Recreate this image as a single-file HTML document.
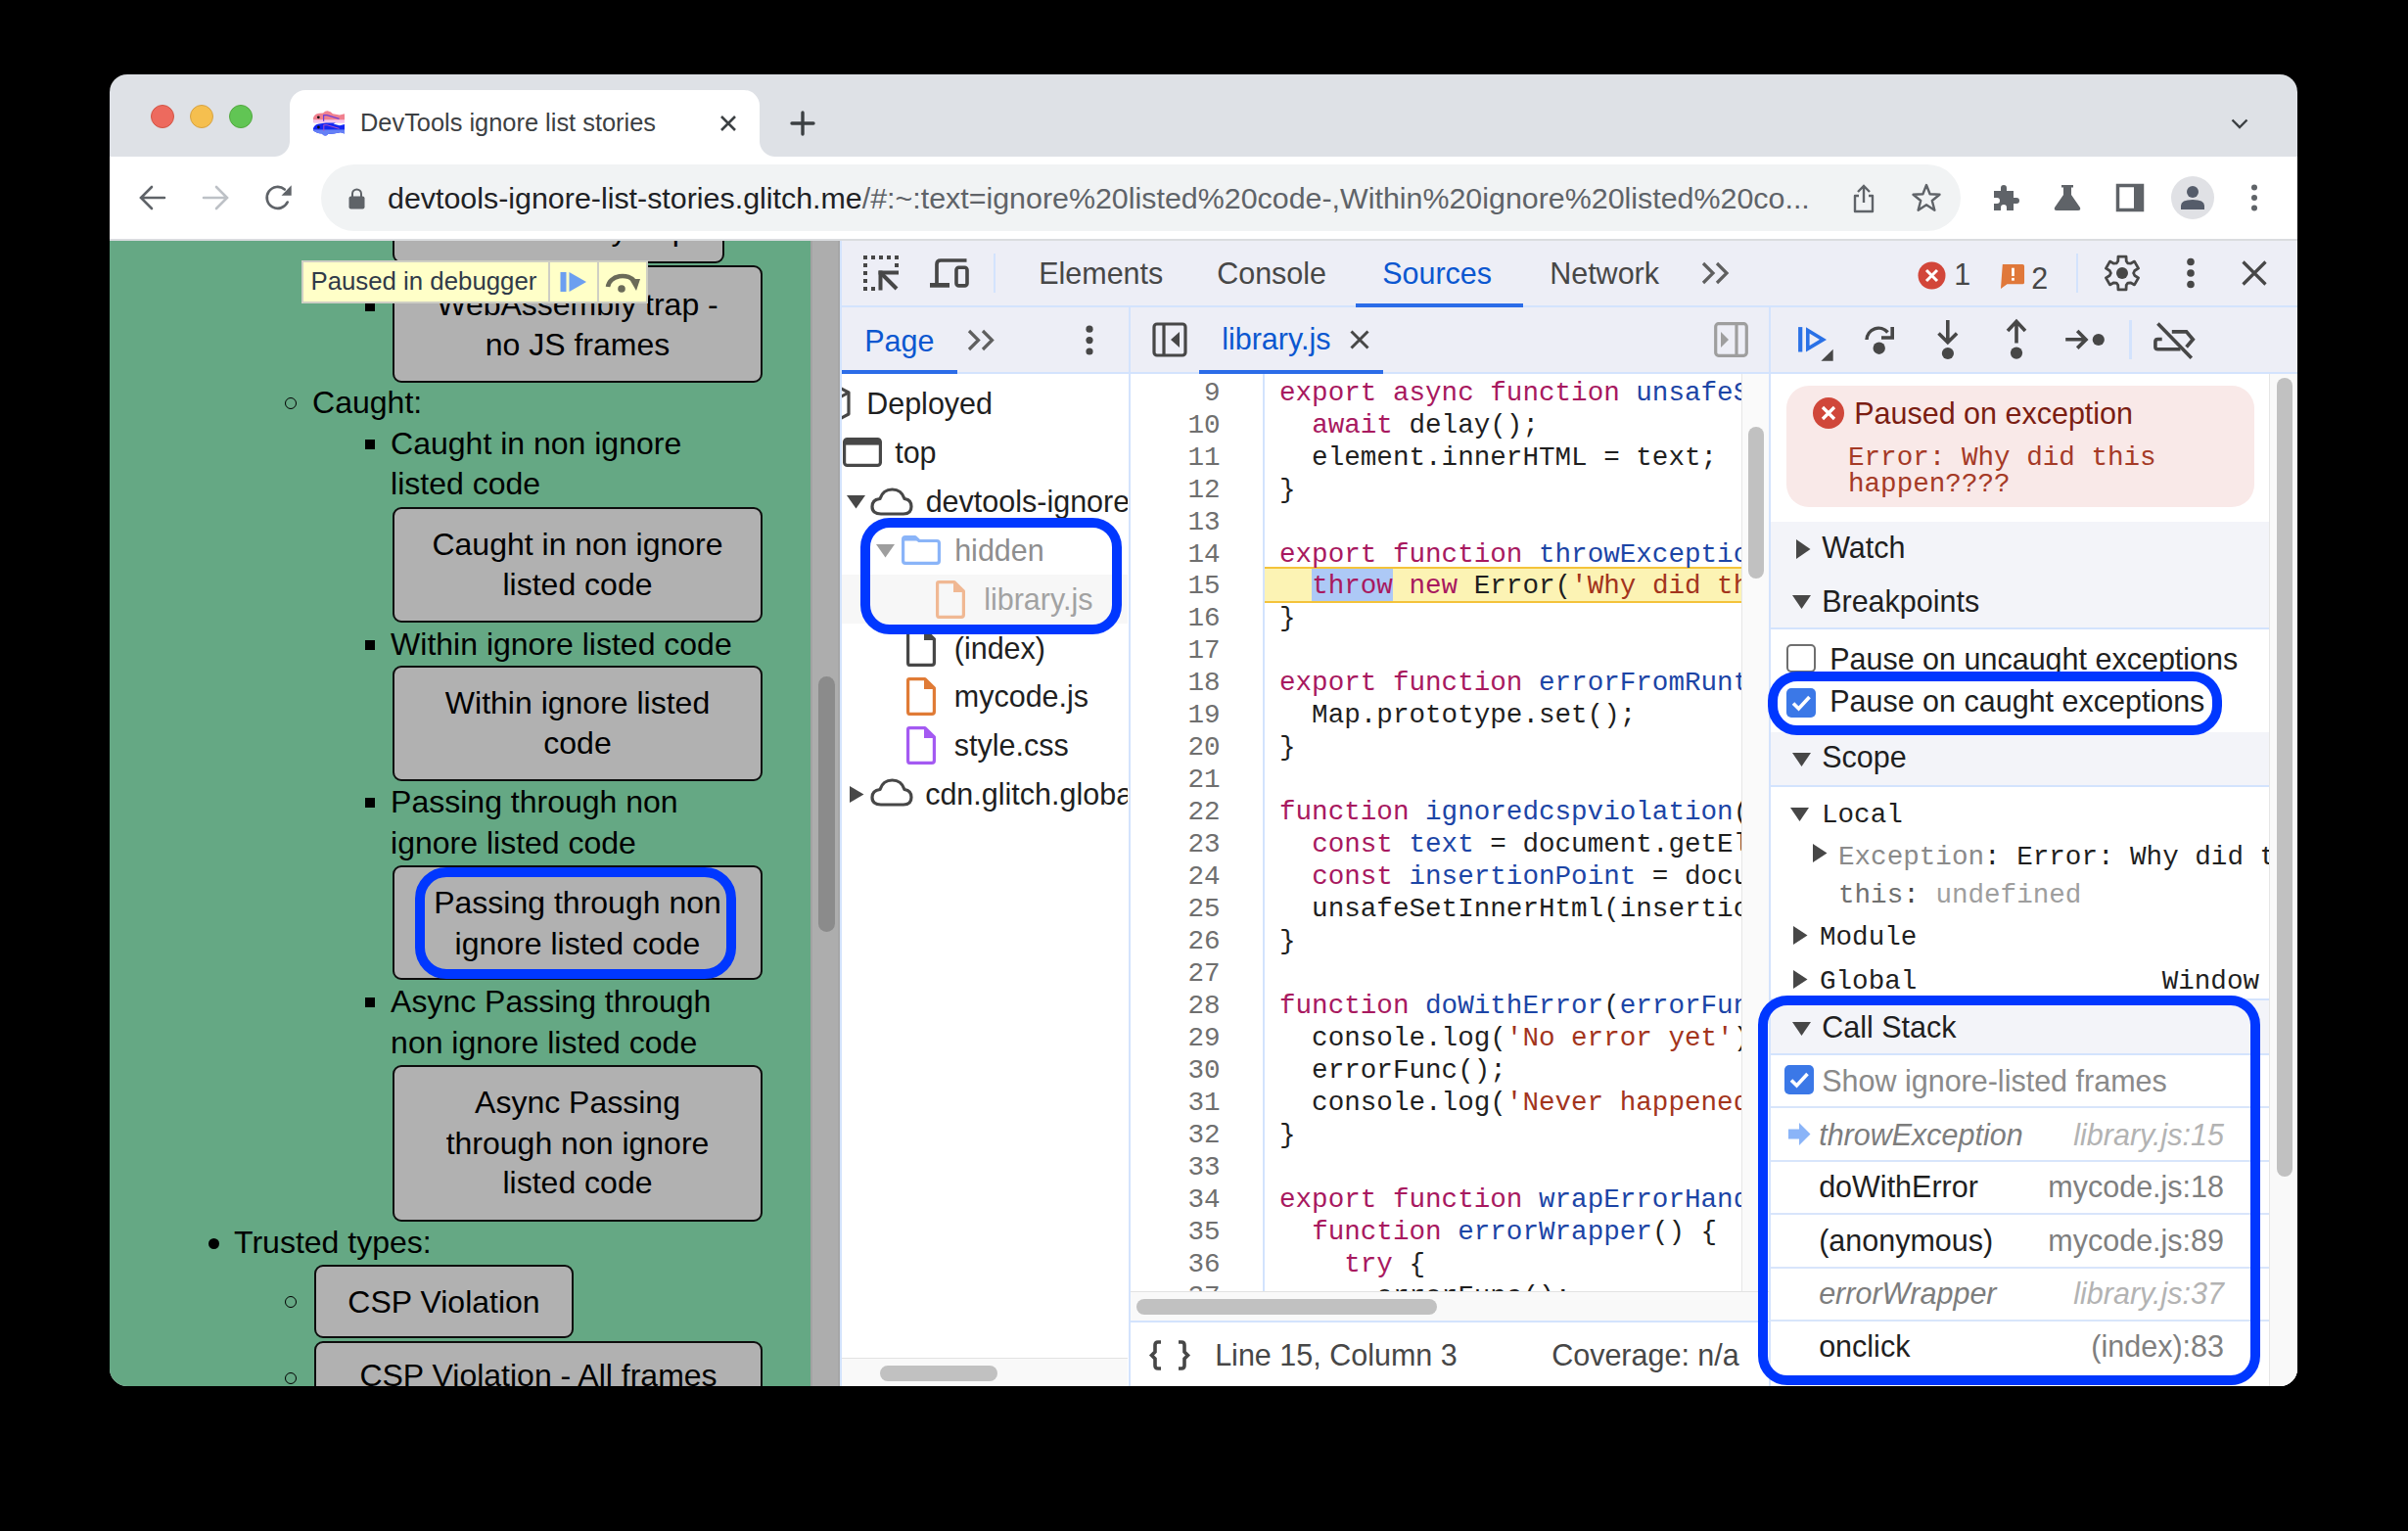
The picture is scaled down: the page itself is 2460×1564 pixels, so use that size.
<!DOCTYPE html>
<html><head><meta charset="utf-8">
<style>
*{box-sizing:border-box;margin:0;padding:0}
html,body{width:2460px;height:1564px;background:#000;overflow:hidden;font-family:"Liberation Sans",sans-serif}
.a{position:absolute}
#win{position:absolute;left:112px;top:76px;width:2235px;height:1340px;border-radius:18px;overflow:hidden;background:#dee1e6}
#c{position:absolute;left:-112px;top:-76px;width:2460px;height:1564px}
.t{white-space:pre;line-height:1}
svg{position:absolute;overflow:visible}
.clip{position:absolute;overflow:hidden}
</style></head><body>
<div id="win"><div id="c">

<!-- ===== TAB STRIP ===== -->
<div class="a" style="left:154px;top:107px;width:24px;height:24px;border-radius:50%;background:#ed6a5e;border:1px solid #d25545"></div>
<div class="a" style="left:194px;top:107px;width:24px;height:24px;border-radius:50%;background:#f5bf4f;border:1px solid #d6a243"></div>
<div class="a" style="left:234px;top:107px;width:24px;height:24px;border-radius:50%;background:#61c554;border:1px solid #52a73f"></div>
<div class="a" style="left:296px;top:92px;width:480px;height:68px;background:#fff;border-radius:16px 16px 0 0"></div>
<div class="a" style="left:280px;top:144px;width:16px;height:16px;background:radial-gradient(circle at 0 0,#dee1e6 15.5px,#fff 16.5px)"></div>
<div class="a" style="left:776px;top:144px;width:16px;height:16px;background:radial-gradient(circle at 100% 0,#dee1e6 15.5px,#fff 16.5px)"></div>
<!-- favicon -->
<svg style="left:315px;top:108px" width="43" height="34" viewBox="0 0 43 34">
<defs><clipPath id="f1"><path d="M5 12.5Q6 8.6 11 7.8L15 7.5Q17 5.3 19.5 5.3Q23 5.6 25 8.2L32 9.6L37 8.3V17.8H5.5Q5 15 5 12.5Z"/></clipPath>
<clipPath id="f2"><path d="M5 23Q6 19.2 11 18.4L18 17.4H28L25.5 18.6L32 20.2L37 19V28.4L33 27.2Q25 29 20 28.9Q19 30.6 17 30.5Q15 30.4 14 28.6Q8 28.2 5 25.2Z"/></clipPath></defs>
<g clip-path="url(#f1)"><rect x="0" y="0" width="43" height="17" fill="#f0808f"/><rect x="0" y="14.3" width="43" height="4" fill="#f5c6ec"/></g>
<g clip-path="url(#f2)"><rect x="0" y="15" width="43" height="20" fill="#1426f2"/><rect x="0" y="24.4" width="43" height="8" fill="#6580f6"/></g>
<circle cx="10.3" cy="11.8" r="1.4" fill="#111"/><circle cx="10.4" cy="22" r="1.4" fill="#111"/>
<path d="M15.6 9.6V15.8M15.3 9.6H19L31.5 13.3" stroke="#6a3ed8" stroke-width="1.2" fill="none"/>
<path d="M15.8 19.7V25.8M15.5 19.7H19L31.5 23.4" stroke="#b050c0" stroke-width="1" fill="none"/>
</svg>
<div class="a t" style="left:368px;top:113px;font-size:25.4px;color:#3c4043">DevTools ignore list stories</div>
<svg style="left:735px;top:117px" width="18" height="18" viewBox="0 0 18 18"><path d="M2 2L16 16M16 2L2 16" stroke="#3c4043" stroke-width="2.6"/></svg>
<svg style="left:808px;top:114px" width="24" height="24" viewBox="0 0 24 24"><path d="M12 1V23M1 12H23" stroke="#3c4043" stroke-width="3.4" stroke-linecap="round"/></svg>
<svg style="left:2279px;top:121px" width="18" height="11" viewBox="0 0 18 11"><path d="M1.5 1.5L9 9L16.5 1.5" stroke="#3c4043" stroke-width="2.4" fill="none"/></svg>

<!-- ===== TOOLBAR ===== -->
<div class="a" style="left:112px;top:160px;width:2235px;height:84px;background:#fff"></div>
<div class="a" style="left:112px;top:244px;width:2235px;height:2px;background:#dadcdf"></div>
<svg style="left:142px;top:189px" width="28" height="26" viewBox="0 0 28 26"><path d="M26 13H3M13 2L2 13L13 24" stroke="#5f6368" stroke-width="2.6" fill="none" stroke-linecap="round"/></svg>
<svg style="left:206px;top:189px" width="28" height="26" viewBox="0 0 28 26"><path d="M2 13H25M15 2L26 13L15 24" stroke="#bdc1c6" stroke-width="2.6" fill="none" stroke-linecap="round"/></svg>
<svg style="left:268px;top:186px" width="32" height="32" viewBox="0 0 32 32"><path d="M25.67 20.55A11 11 0 1 1 22.77 7.47" stroke="#5f6368" stroke-width="2.7" fill="none" stroke-linecap="round"/><path d="M19.5 13.8L29.7 3.2V13.8Z" fill="#5f6368"/></svg>
<div class="a" style="left:328px;top:168px;width:1675px;height:68px;border-radius:34px;background:#f1f3f4"></div>
<svg style="left:356px;top:192px" width="17" height="22" viewBox="0 0 17 22"><path d="M4 9V6A4.5 4.5 0 0 1 13 6V9" stroke="#5f6368" stroke-width="2" fill="none"/><rect x="0.5" y="8.5" width="16" height="13" rx="2" fill="#5f6368"/></svg>
<div class="a t" style="left:396px;top:187px;font-size:30.4px;color:#202124">devtools-ignore-list-stories.glitch.me<span style="color:#5f6368">/#:~:text=ignore%20listed%20code-,Within%20ignore%20listed%20co...</span></div>
<svg style="left:1892px;top:188px" width="24" height="30" viewBox="0 0 24 30"><path d="M12 2V19M6 8L12 2L18 8" stroke="#5f6368" stroke-width="2.4" fill="none"/><path d="M7 12H3V28H21V12H17" stroke="#5f6368" stroke-width="2.4" fill="none" stroke-linejoin="round"/></svg>
<svg style="left:1953px;top:187px" width="30" height="30" viewBox="0 0 30 30"><path d="M15 2L18.6 11.3L28.5 11.8L20.8 18L23.4 27.7L15 22.2L6.6 27.7L9.2 18L1.5 11.8L11.4 11.3Z" stroke="#5f6368" stroke-width="2.4" fill="none" stroke-linejoin="round"/></svg>
<svg style="left:2034px;top:187px" width="30" height="30" viewBox="0 0 30 30"><path d="M3 8H10V5A3 3 0 0 1 16 5V8H23V15H26A3 3 0 0 1 26 21H23V28H16V25A3 3 0 0 0 10 25V28H3V21H6A3 3 0 0 0 6 15H3Z" fill="#5f6368"/></svg>
<svg style="left:2098px;top:188px" width="28" height="28" viewBox="0 0 28 28"><path d="M8 1H20V3.5H18V11L27 24Q28 27 25 27H3Q0 27 1 24L10 11V3.5H8Z" fill="#5f6368"/></svg>
<svg style="left:2162px;top:188px" width="28" height="28" viewBox="0 0 28 28"><rect x="1.5" y="1.5" width="25" height="25" fill="none" stroke="#5f6368" stroke-width="3.5"/><rect x="18" y="1" width="9" height="26" fill="#5f6368"/></svg>
<div class="a" style="left:2218px;top:180px;width:44px;height:44px;border-radius:50%;background:#e0e1e5"></div>
<svg style="left:2228px;top:189px" width="24" height="26" viewBox="0 0 24 26"><circle cx="12" cy="7" r="6" fill="#555c6a"/><path d="M0 25V21Q0 15 12 15Q24 15 24 21V25Z" fill="#555c6a"/></svg>
<svg style="left:2298px;top:188px" width="10" height="28" viewBox="0 0 10 28"><circle cx="5" cy="3.5" r="3" fill="#5f6368"/><circle cx="5" cy="14" r="3" fill="#5f6368"/><circle cx="5" cy="24.5" r="3" fill="#5f6368"/></svg>


<div class="a" style="left:112px;top:246px;width:716px;height:1170px;background:#65a884;"></div>
<div class="clip" style="left:112px;top:246px;width:716px;height:1170px"><div class="a" style="left:-112px;top:-246px;width:2460px;height:1564px">
<div class="a" style="left:401px;top:130px;width:339px;height:139px;background:#b1b1b1;border:2px solid #0d0d0d;border-radius:9px"></div>
<div class="a t" style="top:217.90px;font-size:32px;color:#000;font-family:'Liberation Sans',sans-serif;left:270.50px;width:600px;text-align:center;">WebAssembly trap</div>
<div class="a" style="left:373px;top:308px;width:10px;height:10px;background:#000;"></div>
<div class="a" style="left:401px;top:271px;width:378px;height:120px;background:#b1b1b1;border:2px solid #0d0d0d;border-radius:9px"></div>
<div class="a t" style="top:294.50px;font-size:32px;color:#000;font-family:'Liberation Sans',sans-serif;left:290.00px;width:600px;text-align:center;">WebAssembly trap -</div>
<div class="a t" style="top:335.90px;font-size:32px;color:#000;font-family:'Liberation Sans',sans-serif;left:290.00px;width:600px;text-align:center;">no JS frames</div>
<div class="a" style="left:291px;top:406px;width:12px;height:12px;border:1.6px solid #000;border-radius:50%"></div>
<div class="a t" style="top:394.90px;font-size:32px;color:#000;font-family:'Liberation Sans',sans-serif;left:319.08px;">Caught:</div>
<div class="a" style="left:373px;top:449px;width:10px;height:10px;background:#000;"></div>
<div class="a t" style="top:436.90px;font-size:32px;color:#000;font-family:'Liberation Sans',sans-serif;left:399.08px;">Caught in non ignore</div>
<div class="a t" style="top:478.40px;font-size:32px;color:#000;font-family:'Liberation Sans',sans-serif;left:399.08px;">listed code</div>
<div class="a" style="left:401px;top:518px;width:378px;height:118px;background:#b1b1b1;border:2px solid #0d0d0d;border-radius:9px"></div>
<div class="a t" style="top:539.90px;font-size:32px;color:#000;font-family:'Liberation Sans',sans-serif;left:290.00px;width:600px;text-align:center;">Caught in non ignore</div>
<div class="a t" style="top:581.40px;font-size:32px;color:#000;font-family:'Liberation Sans',sans-serif;left:290.00px;width:600px;text-align:center;">listed code</div>
<div class="a" style="left:373px;top:654px;width:10px;height:10px;background:#000;"></div>
<div class="a t" style="top:641.60px;font-size:32px;color:#000;font-family:'Liberation Sans',sans-serif;left:399.08px;">Within ignore listed code</div>
<div class="a" style="left:401px;top:680px;width:378px;height:118px;background:#b1b1b1;border:2px solid #0d0d0d;border-radius:9px"></div>
<div class="a t" style="top:701.70px;font-size:32px;color:#000;font-family:'Liberation Sans',sans-serif;left:290.00px;width:600px;text-align:center;">Within ignore listed</div>
<div class="a t" style="top:742.90px;font-size:32px;color:#000;font-family:'Liberation Sans',sans-serif;left:290.00px;width:600px;text-align:center;">code</div>
<div class="a" style="left:373px;top:815px;width:10px;height:10px;background:#000;"></div>
<div class="a t" style="top:802.90px;font-size:32px;color:#000;font-family:'Liberation Sans',sans-serif;left:399.08px;">Passing through non</div>
<div class="a t" style="top:844.90px;font-size:32px;color:#000;font-family:'Liberation Sans',sans-serif;left:399.08px;">ignore listed code</div>
<div class="a" style="left:401px;top:884px;width:378px;height:117px;background:#b1b1b1;border:2px solid #0d0d0d;border-radius:9px"></div>
<div class="a t" style="top:905.90px;font-size:32px;color:#000;font-family:'Liberation Sans',sans-serif;left:290.00px;width:600px;text-align:center;">Passing through non</div>
<div class="a t" style="top:947.90px;font-size:32px;color:#000;font-family:'Liberation Sans',sans-serif;left:290.00px;width:600px;text-align:center;">ignore listed code</div>
<div class="a" style="left:373px;top:1019px;width:10px;height:10px;background:#000;"></div>
<div class="a t" style="top:1006.90px;font-size:32px;color:#000;font-family:'Liberation Sans',sans-serif;left:399.08px;">Async Passing through</div>
<div class="a t" style="top:1048.90px;font-size:32px;color:#000;font-family:'Liberation Sans',sans-serif;left:399.08px;">non ignore listed code</div>
<div class="a" style="left:401px;top:1088px;width:378px;height:160px;background:#b1b1b1;border:2px solid #0d0d0d;border-radius:9px"></div>
<div class="a t" style="top:1109.90px;font-size:32px;color:#000;font-family:'Liberation Sans',sans-serif;left:290.00px;width:600px;text-align:center;">Async Passing</div>
<div class="a t" style="top:1151.90px;font-size:32px;color:#000;font-family:'Liberation Sans',sans-serif;left:290.00px;width:600px;text-align:center;">through non ignore</div>
<div class="a t" style="top:1191.90px;font-size:32px;color:#000;font-family:'Liberation Sans',sans-serif;left:290.00px;width:600px;text-align:center;">listed code</div>
<div class="a" style="left:212.5px;top:1264.5px;width:11px;height:11px;background:#000;border-radius:50%"></div>
<div class="a t" style="top:1252.90px;font-size:32px;color:#000;font-family:'Liberation Sans',sans-serif;left:239.08px;">Trusted types:</div>
<div class="a" style="left:291px;top:1324px;width:12px;height:12px;border:1.6px solid #000;border-radius:50%"></div>
<div class="a" style="left:321px;top:1292px;width:265px;height:75px;background:#b1b1b1;border:2px solid #0d0d0d;border-radius:9px"></div>
<div class="a t" style="top:1313.90px;font-size:32px;color:#000;font-family:'Liberation Sans',sans-serif;left:153.50px;width:600px;text-align:center;">CSP Violation</div>
<div class="a" style="left:291px;top:1402px;width:12px;height:12px;border:1.6px solid #000;border-radius:50%"></div>
<div class="a" style="left:321px;top:1370px;width:458px;height:110px;background:#b1b1b1;border:2px solid #0d0d0d;border-radius:9px"></div>
<div class="a t" style="top:1388.50px;font-size:32px;color:#000;font-family:'Liberation Sans',sans-serif;left:250.00px;width:600px;text-align:center;">CSP Violation - All frames</div>
<div class="a" style="left:424px;top:886px;width:328px;height:114px;border:10px solid #0037ff;border-radius:32px"></div>
<div class="a" style="left:308px;top:266px;width:354px;height:44px;background:#ffffc8;border:2px solid #cfcfc4"></div>
<div class="a" style="left:560px;top:268px;width:2px;height:40px;background:#cfcfc4;"></div>
<div class="a" style="left:610px;top:268px;width:2px;height:40px;background:#cfcfc4;"></div>
<div class="a t" style="top:274.95px;font-size:25.8px;color:#303a48;font-family:'Liberation Sans',sans-serif;left:317.45px;">Paused in debugger</div>
<svg style="left:572px;top:278px" width="28" height="20" viewBox="0 0 28 20"><rect x="0.5" y="0" width="6" height="20" fill="#6c9ff0"/><path d="M9.5 0L27 10L9.5 20Z" fill="#6c9ff0"/></svg>
<svg style="left:618px;top:277px" width="37" height="22" viewBox="0 0 37 22"><path d="M3 16A15 12 0 0 1 31 11" stroke="#6a6a58" stroke-width="4.5" fill="none"/><path d="M25 8L36 8L32 20Z" fill="#6a6a58"/><circle cx="17" cy="18" r="3.8" fill="#6a6a58"/></svg>
</div></div>
<div class="a" style="left:828px;top:246px;width:30px;height:1170px;background:#adadad;border-left:2px solid #a3a3a3;border-right:2px solid #a6a6a6"></div>
<div class="a" style="left:836px;top:691px;width:17px;height:261px;background:#8b8b8b;border-radius:9px"></div>
<div class="a" style="left:858px;top:246px;width:1489px;height:1170px;background:#ffffff;"></div>
<div class="a" style="left:858px;top:246px;width:2px;height:1170px;background:#d3e3fd;"></div>
<div class="a" style="left:860px;top:246px;width:1487px;height:66px;background:#edeef6;"></div>
<div class="a" style="left:860px;top:312px;width:1487px;height:2px;background:#d3e3fd;"></div>
<svg style="left:882px;top:261px" width="36" height="36" viewBox="0 0 36 36"><rect x="0" y="0" width="4" height="4" fill="#474747"/><rect x="8" y="0" width="4" height="4" fill="#474747"/><rect x="16" y="0" width="4" height="4" fill="#474747"/><rect x="24" y="0" width="4" height="4" fill="#474747"/><rect x="32" y="0" width="4" height="4" fill="#474747"/><rect x="0" y="8" width="4" height="4" fill="#474747"/><rect x="0" y="16" width="4" height="4" fill="#474747"/><rect x="0" y="24" width="4" height="4" fill="#474747"/><rect x="0" y="32" width="4" height="4" fill="#474747"/><rect x="32" y="8" width="4" height="4" fill="#474747"/><rect x="8" y="32" width="4" height="4" fill="#474747"/><rect x="15.5" y="15.5" width="4" height="20" fill="#474747"/><rect x="15.5" y="15.5" width="20.5" height="4" fill="#474747"/><path d="M18.5 18.5L34 34" stroke="#474747" stroke-width="4"/></svg>
<svg style="left:950px;top:264px" width="40" height="30" viewBox="0 0 40 30"><path d="M7 28V6Q7 2 11 2H37.5" stroke="#474747" stroke-width="3.7" fill="none"/><rect x="0" y="25" width="20" height="4.7" fill="#474747"/><rect x="27" y="9.2" width="11" height="18.7" rx="2.5" stroke="#474747" stroke-width="3.6" fill="none"/></svg>
<div class="a" style="left:1015px;top:259px;width:2px;height:40px;background:#d3e3fd;"></div>
<div class="a t" style="top:263.97px;font-size:30.5px;color:#474747;font-family:'Liberation Sans',sans-serif;left:1061.17px;">Elements</div>
<div class="a t" style="top:263.97px;font-size:30.5px;color:#474747;font-family:'Liberation Sans',sans-serif;left:1243.17px;">Console</div>
<div class="a t" style="top:263.97px;font-size:30.5px;color:#0b57d0;font-family:'Liberation Sans',sans-serif;left:1412.17px;">Sources</div>
<div class="a" style="left:1385px;top:310px;width:171px;height:4px;background:#2b6ce8;"></div>
<div class="a t" style="top:263.97px;font-size:30.5px;color:#474747;font-family:'Liberation Sans',sans-serif;left:1583.17px;">Network</div>
<svg style="left:1738px;top:267px" width="30" height="24" viewBox="0 0 30 24"><path d="M2 2L12 12L2 22M16 2L26 12L16 22" stroke="#5f5f5f" stroke-width="3.2" fill="none"/></svg>
<svg style="left:1959px;top:267px" width="29" height="29" viewBox="0 0 29 29"><circle cx="14.5" cy="14.5" r="14" fill="#d2463a"/><path d="M9 9L20 20M20 9L9 20" stroke="#fff" stroke-width="3"/></svg>
<div class="a t" style="top:265.17px;font-size:30.5px;color:#474747;font-family:'Liberation Sans',sans-serif;left:1996.17px;">1</div>
<svg style="left:2043px;top:270px" width="26" height="25" viewBox="0 0 26 27"><path d="M2 0H24Q26 0 26 2V20Q26 22 24 22H7L0 27Z" fill="#e0783a"/><rect x="12" y="4" width="3" height="9" fill="#fff"/><rect x="12" y="15" width="3" height="3" fill="#fff"/></svg>
<div class="a t" style="top:268.57px;font-size:30.5px;color:#474747;font-family:'Liberation Sans',sans-serif;left:2075.17px;">2</div>
<div class="a" style="left:2121px;top:259px;width:2px;height:40px;background:#d3e3fd;"></div>
<svg style="left:2149px;top:260px" width="38" height="38" viewBox="0 0 38 38"><path d="M23.23 6.71 L23.04 2.18 L14.96 2.18 L14.77 6.71 L13.20 8.95 L10.47 9.19 L6.45 7.09 L2.41 14.09 L6.24 16.52 L7.40 19.00 L6.24 21.48 L2.41 23.91 L6.45 30.91 L10.47 28.81 L13.20 29.05 L14.77 31.29 L14.96 35.82 L23.04 35.82 L23.23 31.29 L24.80 29.05 L27.53 28.81 L31.55 30.91 L35.59 23.91 L31.76 21.48 L30.60 19.00 L31.76 16.52 L35.59 14.09 L31.55 7.09 L27.53 9.19 L24.80 8.95Z" stroke="#474747" stroke-width="2.8" fill="none" stroke-linejoin="round"/><circle cx="19" cy="19" r="6" fill="#474747"/></svg>
<svg style="left:2234px;top:263px" width="8" height="32" viewBox="0 0 8 32"><circle cx="4" cy="4.5" r="3.8" fill="#474747"/><circle cx="4" cy="16" r="3.8" fill="#474747"/><circle cx="4" cy="27.5" r="3.8" fill="#474747"/></svg>
<svg style="left:2290px;top:266px" width="26" height="26" viewBox="0 0 26 26"><path d="M1.5 1.5L24.5 24.5M24.5 1.5L1.5 24.5" stroke="#474747" stroke-width="3.2"/></svg>
<div class="a" style="left:860px;top:314px;width:1487px;height:66px;background:#edeef6;"></div>
<div class="a" style="left:860px;top:380px;width:1487px;height:2px;background:#d3e3fd;"></div>
<div class="a" style="left:1153px;top:314px;width:2px;height:1102px;background:#d3e3fd;"></div>
<div class="a" style="left:1807px;top:314px;width:2px;height:1102px;background:#d3e3fd;"></div>
<div class="a t" style="top:332.57px;font-size:30.5px;color:#0b57d0;font-family:'Liberation Sans',sans-serif;left:883.17px;">Page</div>
<div class="a" style="left:860px;top:378px;width:118px;height:4px;background:#2b6ce8;"></div>
<svg style="left:988px;top:336px" width="30" height="23" viewBox="0 0 30 23"><path d="M2 2L11.5 11.5L2 21M16 2L25.5 11.5L16 21" stroke="#5f5f5f" stroke-width="3.2" fill="none"/></svg>
<svg style="left:1109px;top:332px" width="8" height="32" viewBox="0 0 8 32"><circle cx="4" cy="4.2" r="3.6" fill="#474747"/><circle cx="4" cy="15.6" r="3.6" fill="#474747"/><circle cx="4" cy="27" r="3.6" fill="#474747"/></svg>
<svg style="left:1177px;top:329px" width="36" height="36" viewBox="0 0 36 36"><rect x="2" y="2" width="32" height="32" rx="3" stroke="#474747" stroke-width="3.2" fill="none"/><path d="M12 2V34" stroke="#474747" stroke-width="3.2"/><path d="M28 10V26L19 18Z" fill="#474747"/></svg>
<div class="a t" style="top:331.17px;font-size:30.5px;color:#0b57d0;font-family:'Liberation Sans',sans-serif;left:1248.17px;">library.js</div>
<svg style="left:1379px;top:337px" width="20" height="20" viewBox="0 0 20 20"><path d="M1.5 1.5L18.5 18.5M18.5 1.5L1.5 18.5" stroke="#474747" stroke-width="3"/></svg>
<div class="a" style="left:1225px;top:378px;width:188px;height:4px;background:#2b6ce8;"></div>
<svg style="left:1751px;top:329px" width="35" height="36" viewBox="0 0 35 36"><rect x="1.7" y="1.7" width="31.6" height="32.6" rx="3" stroke="#9e9e9e" stroke-width="3.2" fill="none"/><path d="M23 2V34" stroke="#9e9e9e" stroke-width="3.2"/><path d="M7 10V26L15 18Z" fill="#9e9e9e"/></svg>
<svg style="left:1830px;top:320px" width="50" height="55" viewBox="0 0 50 55"><rect x="7.1" y="14.1" width="4.2" height="25.4" fill="#2a71e6"/><path d="M16.8 17.5V36.3L32.5 26.9Z" stroke="#2a71e6" stroke-width="3.6" fill="none" stroke-linejoin="miter"/><path d="M30.4 48.7L42.7 36.7V48.7Z" fill="#474747"/></svg>
<svg style="left:1900px;top:325px" width="40" height="40" viewBox="0 0 40 40"><path d="M7 22A12.2 12.2 0 0 1 28.5 14.5" stroke="#474747" stroke-width="3.5" fill="none"/><path d="M33.2 9V20H22" stroke="#474747" stroke-width="3.6" fill="none"/><circle cx="19.7" cy="30.7" r="6.2" fill="#474747"/></svg>
<svg style="left:1975px;top:325px" width="30" height="45" viewBox="0 0 30 45"><path d="M14.8 2V24.5M5.5 15.5L14.8 24.8L24.1 15.5" stroke="#474747" stroke-width="3.6" fill="none"/><circle cx="14.9" cy="36" r="6.1" fill="#474747"/></svg>
<svg style="left:2045px;top:322px" width="30" height="45" viewBox="0 0 30 45"><path d="M15 7V28.5M6 15.9L15 6.3L24 15.9" stroke="#474747" stroke-width="3.6" fill="none"/><circle cx="15" cy="38.6" r="6.1" fill="#474747"/></svg>
<svg style="left:2105px;top:330px" width="50" height="35" viewBox="0 0 50 35"><path d="M5.2 16.8H26.5M17.2 8L26 16.9L17.2 25.6" stroke="#474747" stroke-width="3.6" fill="none"/><circle cx="38.8" cy="17" r="6.1" fill="#474747"/></svg>
<div class="a" style="left:2175px;top:327px;width:3px;height:40px;background:#d3e3fd;"></div>
<svg style="left:2195px;top:325px" width="55" height="45" viewBox="0 0 55 45"><path d="M13.7 21.5H9.5Q6.9 21.5 6.9 24V29.5Q6.9 31.8 9.5 31.8H32.5" stroke="#474747" stroke-width="3.6" fill="none"/><path d="M23.8 13.9H38.6L45.3 21.8L38.6 29.5" stroke="#474747" stroke-width="3.6" fill="none"/><path d="M9.4 5.5L43.8 40.8" stroke="#474747" stroke-width="3.6"/></svg>
<div class="clip" style="left:860px;top:382px;width:292px;height:1034px"><div class="a" style="left:-860px;top:-382px;width:2460px;height:1564px">
<svg style="left:840px;top:390px" width="30" height="42" viewBox="0 0 30 42"><path d="M15 4.5L27 11V33L15 39.5L3 33V11Z" stroke="#474747" stroke-width="3.2" fill="none" stroke-linejoin="round"/><path d="M3 11L15 17.5L27 11M15 17.5V39.5" stroke="#474747" stroke-width="3" fill="none"/></svg>
<div class="a t" style="top:396.77px;font-size:30.5px;color:#1f1f1f;font-family:'Liberation Sans',sans-serif;left:885.17px;">Deployed</div>
<svg style="left:861px;top:447px" width="40" height="30" viewBox="0 0 40 30"><rect x="1.6" y="1.6" width="36.8" height="26.8" rx="3" stroke="#474747" stroke-width="3.2" fill="none"/><rect x="1.6" y="1.6" width="36.8" height="6" fill="#474747"/></svg>
<div class="a t" style="top:446.67px;font-size:30.5px;color:#1f1f1f;font-family:'Liberation Sans',sans-serif;left:914.17px;">top</div>
<svg style="left:865px;top:506px" width="19" height="14" viewBox="0 0 19 14"><path d="M0 0H19L9.5 13.5Z" fill="#474747"/></svg>
<svg style="left:889px;top:497px" width="44" height="30" viewBox="0 0 44 30"><path d="M11 28Q2 28 2 20.5Q2 13.5 10 12.5Q13 3 22.5 3Q32 3 35 12.5Q42 13.5 42 20.5Q42 28 34 28Z" stroke="#474747" stroke-width="3.2" fill="none" stroke-linejoin="round"/></svg>
<div class="a t" style="top:496.77px;font-size:30.5px;color:#1f1f1f;font-family:'Liberation Sans',sans-serif;left:945.67px;">devtools-ignore-list-stories.glitch.me</div>
<svg style="left:895px;top:556px" width="19" height="14" viewBox="0 0 19 14"><path d="M0 0H19L9.5 13.5Z" fill="#9e9e9e"/></svg>
<svg style="left:921px;top:547px" width="40" height="30" viewBox="0 0 40 30"><path d="M1.6 4Q1.6 1.6 4 1.6H14L18 5.5H36Q38.4 5.5 38.4 8V26Q38.4 28.4 36 28.4H4Q1.6 28.4 1.6 26Z" stroke="#8ab4f8" stroke-width="3.2" fill="none" stroke-linejoin="round"/><path d="M1.6 4Q1.6 1.6 4 1.6H14L18 5.5H1.6Z" fill="#8ab4f8"/></svg>
<div class="a t" style="top:546.67px;font-size:30.5px;color:#8e8e8e;font-family:'Liberation Sans',sans-serif;left:975.17px;">hidden</div>
<div class="a" style="left:860px;top:587px;width:293px;height:50px;background:#f7f7f7;"></div>
<svg style="left:956px;top:593px" width="30" height="39" viewBox="0 0 30 39"><path d="M3 1.6H19L28.4 11V35Q28.4 37.4 26 37.4H3Q1.6 37.4 1.6 35V3Q1.6 1.6 3 1.6Z" stroke="#f0b893" stroke-width="3.2" fill="none" stroke-linejoin="round"/><path d="M18 1.6V12H28.4Z" fill="#f0b893"/></svg>
<div class="a t" style="top:597.17px;font-size:30.5px;color:#a2a2a2;font-family:'Liberation Sans',sans-serif;left:1005.17px;">library.js</div>
<svg style="left:926px;top:642px" width="30" height="39" viewBox="0 0 30 39"><path d="M3 1.6H19L28.4 11V35Q28.4 37.4 26 37.4H3Q1.6 37.4 1.6 35V3Q1.6 1.6 3 1.6Z" stroke="#474747" stroke-width="3.2" fill="none" stroke-linejoin="round"/><path d="M18 1.6V12H28.4Z" fill="#474747"/></svg>
<div class="a t" style="top:646.67px;font-size:30.5px;color:#1f1f1f;font-family:'Liberation Sans',sans-serif;left:974.77px;">(index)</div>
<svg style="left:926px;top:692px" width="30" height="39" viewBox="0 0 30 39"><path d="M3 1.6H19L28.4 11V35Q28.4 37.4 26 37.4H3Q1.6 37.4 1.6 35V3Q1.6 1.6 3 1.6Z" stroke="#e07b36" stroke-width="3.2" fill="none" stroke-linejoin="round"/><path d="M18 1.6V12H28.4Z" fill="#e07b36"/></svg>
<div class="a t" style="top:696.17px;font-size:30.5px;color:#1f1f1f;font-family:'Liberation Sans',sans-serif;left:974.77px;">mycode.js</div>
<svg style="left:926px;top:742px" width="30" height="39" viewBox="0 0 30 39"><path d="M3 1.6H19L28.4 11V35Q28.4 37.4 26 37.4H3Q1.6 37.4 1.6 35V3Q1.6 1.6 3 1.6Z" stroke="#a45af2" stroke-width="3.2" fill="none" stroke-linejoin="round"/><path d="M18 1.6V12H28.4Z" fill="#a45af2"/></svg>
<div class="a t" style="top:746.17px;font-size:30.5px;color:#1f1f1f;font-family:'Liberation Sans',sans-serif;left:974.77px;">style.css</div>
<svg style="left:868px;top:803px" width="15" height="17" viewBox="0 0 15 17"><path d="M0 0V17L14.5 8.5Z" fill="#474747"/></svg>
<svg style="left:889px;top:794px" width="44" height="30" viewBox="0 0 44 30"><path d="M11 28Q2 28 2 20.5Q2 13.5 10 12.5Q13 3 22.5 3Q32 3 35 12.5Q42 13.5 42 20.5Q42 28 34 28Z" stroke="#474747" stroke-width="3.2" fill="none" stroke-linejoin="round"/></svg>
<div class="a t" style="top:796.17px;font-size:30.5px;color:#1f1f1f;font-family:'Liberation Sans',sans-serif;left:945.17px;">cdn.glitch.global</div>
<div class="a" style="left:860px;top:1387px;width:293px;height:29px;background:#f9f9f9;border-top:1px solid #e3e3e3"></div>
<div class="a" style="left:899px;top:1395px;width:120px;height:16px;background:#c1c1c1;border-radius:8px"></div>
</div></div>
<div class="a" style="left:879px;top:529px;width:267px;height:119px;border:10px solid #0037ff;border-radius:30px"></div>
<div class="clip" style="left:1155px;top:382px;width:652px;height:937px"><div class="a" style="left:-1155px;top:-382px;width:2460px;height:1564px">
<div class="a" style="left:1290px;top:382px;width:2px;height:937px;background:#d3e3fd;"></div>
<div class="a" style="left:1292px;top:579px;width:487px;height:37px;background:#fcf3b4;border-top:2px solid #f4c33a;border-bottom:2px solid #f4c33a"></div>
<div class="a" style="left:1340px;top:581px;width:83px;height:33px;background:#adc9f6;"></div>
<div class="a t" style="top:387.66px;font-size:27.6px;color:#6f6f6f;font-family:'Liberation Mono',monospace;left:1126.50px;width:120px;text-align:right;">9</div>
<div class="a t" style="top:387.66px;font-size:27.6px;color:#1f1f1f;font-family:'Liberation Mono',monospace;left:1307.00px;"><span style="color:#a8195f">export </span><span style="color:#a8195f">async </span><span style="color:#a8195f">function </span><span style="color:#1c45a6">unsafeSetInnerHtml</span><span style="color:#1f1f1f">(element, text) {</span></div>
<div class="a t" style="top:420.63px;font-size:27.6px;color:#6f6f6f;font-family:'Liberation Mono',monospace;left:1126.50px;width:120px;text-align:right;">10</div>
<div class="a t" style="top:420.63px;font-size:27.6px;color:#1f1f1f;font-family:'Liberation Mono',monospace;left:1307.00px;"><span style="color:#1f1f1f">  </span><span style="color:#a8195f">await </span><span style="color:#1f1f1f">delay();</span></div>
<div class="a t" style="top:453.60px;font-size:27.6px;color:#6f6f6f;font-family:'Liberation Mono',monospace;left:1126.50px;width:120px;text-align:right;">11</div>
<div class="a t" style="top:453.60px;font-size:27.6px;color:#1f1f1f;font-family:'Liberation Mono',monospace;left:1307.00px;"><span style="color:#1f1f1f">  element.innerHTML = text;</span></div>
<div class="a t" style="top:486.57px;font-size:27.6px;color:#6f6f6f;font-family:'Liberation Mono',monospace;left:1126.50px;width:120px;text-align:right;">12</div>
<div class="a t" style="top:486.57px;font-size:27.6px;color:#1f1f1f;font-family:'Liberation Mono',monospace;left:1307.00px;"><span style="color:#1f1f1f">}</span></div>
<div class="a t" style="top:519.54px;font-size:27.6px;color:#6f6f6f;font-family:'Liberation Mono',monospace;left:1126.50px;width:120px;text-align:right;">13</div>
<div class="a t" style="top:552.51px;font-size:27.6px;color:#6f6f6f;font-family:'Liberation Mono',monospace;left:1126.50px;width:120px;text-align:right;">14</div>
<div class="a t" style="top:552.51px;font-size:27.6px;color:#1f1f1f;font-family:'Liberation Mono',monospace;left:1307.00px;"><span style="color:#a8195f">export </span><span style="color:#a8195f">function </span><span style="color:#1c45a6">throwException</span><span style="color:#1f1f1f">() {</span></div>
<div class="a t" style="top:585.48px;font-size:27.6px;color:#6f6f6f;font-family:'Liberation Mono',monospace;left:1126.50px;width:120px;text-align:right;">15</div>
<div class="a t" style="top:585.48px;font-size:27.6px;color:#1f1f1f;font-family:'Liberation Mono',monospace;left:1307.00px;"><span style="color:#1f1f1f">  </span><span style="color:#a8195f">throw </span><span style="color:#a8195f">new </span><span style="color:#1f1f1f">Error(</span><span style="color:#a3341c">&#x27;Why did this happen????&#x27;</span><span style="color:#1f1f1f">);</span></div>
<div class="a t" style="top:618.45px;font-size:27.6px;color:#6f6f6f;font-family:'Liberation Mono',monospace;left:1126.50px;width:120px;text-align:right;">16</div>
<div class="a t" style="top:618.45px;font-size:27.6px;color:#1f1f1f;font-family:'Liberation Mono',monospace;left:1307.00px;"><span style="color:#1f1f1f">}</span></div>
<div class="a t" style="top:651.42px;font-size:27.6px;color:#6f6f6f;font-family:'Liberation Mono',monospace;left:1126.50px;width:120px;text-align:right;">17</div>
<div class="a t" style="top:684.39px;font-size:27.6px;color:#6f6f6f;font-family:'Liberation Mono',monospace;left:1126.50px;width:120px;text-align:right;">18</div>
<div class="a t" style="top:684.39px;font-size:27.6px;color:#1f1f1f;font-family:'Liberation Mono',monospace;left:1307.00px;"><span style="color:#a8195f">export </span><span style="color:#a8195f">function </span><span style="color:#1c45a6">errorFromRuntime</span><span style="color:#1f1f1f">() {</span></div>
<div class="a t" style="top:717.36px;font-size:27.6px;color:#6f6f6f;font-family:'Liberation Mono',monospace;left:1126.50px;width:120px;text-align:right;">19</div>
<div class="a t" style="top:717.36px;font-size:27.6px;color:#1f1f1f;font-family:'Liberation Mono',monospace;left:1307.00px;"><span style="color:#1f1f1f">  Map.prototype.set();</span></div>
<div class="a t" style="top:750.33px;font-size:27.6px;color:#6f6f6f;font-family:'Liberation Mono',monospace;left:1126.50px;width:120px;text-align:right;">20</div>
<div class="a t" style="top:750.33px;font-size:27.6px;color:#1f1f1f;font-family:'Liberation Mono',monospace;left:1307.00px;"><span style="color:#1f1f1f">}</span></div>
<div class="a t" style="top:783.30px;font-size:27.6px;color:#6f6f6f;font-family:'Liberation Mono',monospace;left:1126.50px;width:120px;text-align:right;">21</div>
<div class="a t" style="top:816.27px;font-size:27.6px;color:#6f6f6f;font-family:'Liberation Mono',monospace;left:1126.50px;width:120px;text-align:right;">22</div>
<div class="a t" style="top:816.27px;font-size:27.6px;color:#1f1f1f;font-family:'Liberation Mono',monospace;left:1307.00px;"><span style="color:#a8195f">function </span><span style="color:#1c45a6">ignoredcspviolation</span><span style="color:#1f1f1f">() {</span></div>
<div class="a t" style="top:849.24px;font-size:27.6px;color:#6f6f6f;font-family:'Liberation Mono',monospace;left:1126.50px;width:120px;text-align:right;">23</div>
<div class="a t" style="top:849.24px;font-size:27.6px;color:#1f1f1f;font-family:'Liberation Mono',monospace;left:1307.00px;"><span style="color:#1f1f1f">  </span><span style="color:#a8195f">const </span><span style="color:#1c45a6">text</span><span style="color:#1f1f1f"> = document.getElementById();</span></div>
<div class="a t" style="top:882.21px;font-size:27.6px;color:#6f6f6f;font-family:'Liberation Mono',monospace;left:1126.50px;width:120px;text-align:right;">24</div>
<div class="a t" style="top:882.21px;font-size:27.6px;color:#1f1f1f;font-family:'Liberation Mono',monospace;left:1307.00px;"><span style="color:#1f1f1f">  </span><span style="color:#a8195f">const </span><span style="color:#1c45a6">insertionPoint</span><span style="color:#1f1f1f"> = document.getElementById();</span></div>
<div class="a t" style="top:915.18px;font-size:27.6px;color:#6f6f6f;font-family:'Liberation Mono',monospace;left:1126.50px;width:120px;text-align:right;">25</div>
<div class="a t" style="top:915.18px;font-size:27.6px;color:#1f1f1f;font-family:'Liberation Mono',monospace;left:1307.00px;"><span style="color:#1f1f1f">  unsafeSetInnerHtml(insertionPoint, text);</span></div>
<div class="a t" style="top:948.15px;font-size:27.6px;color:#6f6f6f;font-family:'Liberation Mono',monospace;left:1126.50px;width:120px;text-align:right;">26</div>
<div class="a t" style="top:948.15px;font-size:27.6px;color:#1f1f1f;font-family:'Liberation Mono',monospace;left:1307.00px;"><span style="color:#1f1f1f">}</span></div>
<div class="a t" style="top:981.12px;font-size:27.6px;color:#6f6f6f;font-family:'Liberation Mono',monospace;left:1126.50px;width:120px;text-align:right;">27</div>
<div class="a t" style="top:1014.09px;font-size:27.6px;color:#6f6f6f;font-family:'Liberation Mono',monospace;left:1126.50px;width:120px;text-align:right;">28</div>
<div class="a t" style="top:1014.09px;font-size:27.6px;color:#1f1f1f;font-family:'Liberation Mono',monospace;left:1307.00px;"><span style="color:#a8195f">function </span><span style="color:#1c45a6">doWithError</span><span style="color:#1f1f1f">(</span><span style="color:#1c45a6">errorFunc</span><span style="color:#1f1f1f">) {</span></div>
<div class="a t" style="top:1047.06px;font-size:27.6px;color:#6f6f6f;font-family:'Liberation Mono',monospace;left:1126.50px;width:120px;text-align:right;">29</div>
<div class="a t" style="top:1047.06px;font-size:27.6px;color:#1f1f1f;font-family:'Liberation Mono',monospace;left:1307.00px;"><span style="color:#1f1f1f">  console.log(</span><span style="color:#a3341c">&#x27;No error yet&#x27;</span><span style="color:#1f1f1f">);</span></div>
<div class="a t" style="top:1080.03px;font-size:27.6px;color:#6f6f6f;font-family:'Liberation Mono',monospace;left:1126.50px;width:120px;text-align:right;">30</div>
<div class="a t" style="top:1080.03px;font-size:27.6px;color:#1f1f1f;font-family:'Liberation Mono',monospace;left:1307.00px;"><span style="color:#1f1f1f">  errorFunc();</span></div>
<div class="a t" style="top:1113.00px;font-size:27.6px;color:#6f6f6f;font-family:'Liberation Mono',monospace;left:1126.50px;width:120px;text-align:right;">31</div>
<div class="a t" style="top:1113.00px;font-size:27.6px;color:#1f1f1f;font-family:'Liberation Mono',monospace;left:1307.00px;"><span style="color:#1f1f1f">  console.log(</span><span style="color:#a3341c">&#x27;Never happened&#x27;</span><span style="color:#1f1f1f">);</span></div>
<div class="a t" style="top:1145.97px;font-size:27.6px;color:#6f6f6f;font-family:'Liberation Mono',monospace;left:1126.50px;width:120px;text-align:right;">32</div>
<div class="a t" style="top:1145.97px;font-size:27.6px;color:#1f1f1f;font-family:'Liberation Mono',monospace;left:1307.00px;"><span style="color:#1f1f1f">}</span></div>
<div class="a t" style="top:1178.94px;font-size:27.6px;color:#6f6f6f;font-family:'Liberation Mono',monospace;left:1126.50px;width:120px;text-align:right;">33</div>
<div class="a t" style="top:1211.91px;font-size:27.6px;color:#6f6f6f;font-family:'Liberation Mono',monospace;left:1126.50px;width:120px;text-align:right;">34</div>
<div class="a t" style="top:1211.91px;font-size:27.6px;color:#1f1f1f;font-family:'Liberation Mono',monospace;left:1307.00px;"><span style="color:#a8195f">export </span><span style="color:#a8195f">function </span><span style="color:#1c45a6">wrapErrorHandler</span><span style="color:#1f1f1f">(errorFunc) {</span></div>
<div class="a t" style="top:1244.88px;font-size:27.6px;color:#6f6f6f;font-family:'Liberation Mono',monospace;left:1126.50px;width:120px;text-align:right;">35</div>
<div class="a t" style="top:1244.88px;font-size:27.6px;color:#1f1f1f;font-family:'Liberation Mono',monospace;left:1307.00px;"><span style="color:#1f1f1f">  </span><span style="color:#a8195f">function </span><span style="color:#1c45a6">errorWrapper</span><span style="color:#1f1f1f">() {</span></div>
<div class="a t" style="top:1277.85px;font-size:27.6px;color:#6f6f6f;font-family:'Liberation Mono',monospace;left:1126.50px;width:120px;text-align:right;">36</div>
<div class="a t" style="top:1277.85px;font-size:27.6px;color:#1f1f1f;font-family:'Liberation Mono',monospace;left:1307.00px;"><span style="color:#1f1f1f">    </span><span style="color:#a8195f">try </span><span style="color:#1f1f1f">{</span></div>
<div class="a t" style="top:1310.82px;font-size:27.6px;color:#6f6f6f;font-family:'Liberation Mono',monospace;left:1126.50px;width:120px;text-align:right;">37</div>
<div class="a t" style="top:1310.82px;font-size:27.6px;color:#1f1f1f;font-family:'Liberation Mono',monospace;left:1307.00px;"><span style="color:#1f1f1f">      errorFunc();</span></div>
<div class="a" style="left:1779px;top:382px;width:28px;height:937px;background:#fafafa;border-left:1px solid #e6e6e6"></div>
<div class="a" style="left:1786px;top:436px;width:16px;height:155px;background:#c1c1c1;border-radius:8px"></div>
</div></div>
<div class="a" style="left:1155px;top:1319px;width:652px;height:30px;background:#f9f9f9;border-top:1px solid #e3e3e3"></div>
<div class="a" style="left:1161px;top:1327px;width:307px;height:16px;background:#c1c1c1;border-radius:8px"></div>
<div class="a" style="left:1155px;top:1349px;width:652px;height:2px;background:#d3e3fd;"></div>
<div class="a" style="left:1155px;top:1351px;width:652px;height:65px;background:#ffffff;"></div>
<svg style="left:1175px;top:1369px" width="40" height="31" viewBox="0 0 40 31"><path d="M11 2H8Q5 2 5 5V12L1.5 15.5L5 19V26Q5 29 8 29H11M29 2H32Q35 2 35 5V12L38.5 15.5L35 19V26Q35 29 32 29H29" stroke="#474747" stroke-width="3.6" fill="none"/></svg>
<div class="a t" style="top:1368.87px;font-size:30.5px;color:#474747;font-family:'Liberation Sans',sans-serif;left:1241.17px;">Line 15, Column 3</div>
<div class="a t" style="top:1368.87px;font-size:30.5px;color:#474747;font-family:'Liberation Sans',sans-serif;left:1585.17px;">Coverage: n/a</div>
<div class="clip" style="left:1809px;top:382px;width:538px;height:1034px"><div class="a" style="left:-1809px;top:-382px;width:2460px;height:1564px">
<div class="a" style="left:1825px;top:394px;width:478px;height:124px;background:#f9e9e8;border-radius:23px"></div>
<svg style="left:1852px;top:406px" width="32" height="32" viewBox="0 0 32 32"><circle cx="16" cy="16" r="16" fill="#d0473a"/><path d="M10 10L22 22M22 10L10 22" stroke="#fff" stroke-width="3.2"/></svg>
<div class="a t" style="top:407.17px;font-size:30.5px;color:#7b1d12;font-family:'Liberation Sans',sans-serif;left:1894.17px;">Paused on exception</div>
<div class="a t" style="top:454.36px;font-size:27.6px;color:#a53a26;font-family:'Liberation Mono',monospace;left:1888.00px;">Error: Why did this</div>
<div class="a t" style="top:480.86px;font-size:27.6px;color:#a53a26;font-family:'Liberation Mono',monospace;left:1888.00px;">happen????</div>
<div class="a" style="left:1809px;top:533px;width:509px;height:108px;background:#f3f4f9;"></div>
<div class="a" style="left:1809px;top:641px;width:509px;height:2px;background:#d3e3fd;"></div>
<svg style="left:1835px;top:551px" width="15" height="20" viewBox="0 0 15 20"><path d="M0 0V20L14.5 10Z" fill="#474747"/></svg>
<div class="a t" style="top:543.77px;font-size:30.5px;color:#1f1f1f;font-family:'Liberation Sans',sans-serif;left:1861.17px;">Watch</div>
<svg style="left:1831px;top:608px" width="19" height="14" viewBox="0 0 19 14"><path d="M0 0H19L9.5 14Z" fill="#474747"/></svg>
<div class="a t" style="top:599.17px;font-size:30.5px;color:#1f1f1f;font-family:'Liberation Sans',sans-serif;left:1861.17px;">Breakpoints</div>
<div class="a" style="left:1825px;top:658px;width:30px;height:29px;background:#fff;border:2.5px solid #6f6f6f;border-radius:5px"></div>
<div class="a t" style="top:657.57px;font-size:30.5px;color:#1f1f1f;font-family:'Liberation Sans',sans-serif;left:1869.17px;">Pause on uncaught exceptions</div>
<svg style="left:1825px;top:703px" width="30" height="30" viewBox="0 0 30 30"><rect x="0" y="0" width="30" height="30" rx="5" fill="#3b78e7"/><path d="M7 15.5L12.5 21L23.5 9" stroke="#fff" stroke-width="3.6" fill="none"/></svg>
<div class="a t" style="top:701.17px;font-size:30.5px;color:#1f1f1f;font-family:'Liberation Sans',sans-serif;left:1869.17px;">Pause on caught exceptions</div>
<div class="a" style="left:1809px;top:748px;width:509px;height:54px;background:#f3f4f9;"></div>
<div class="a" style="left:1809px;top:802px;width:509px;height:2px;background:#d3e3fd;"></div>
<svg style="left:1831px;top:769px" width="19" height="14" viewBox="0 0 19 14"><path d="M0 0H19L9.5 14Z" fill="#474747"/></svg>
<div class="a t" style="top:758.17px;font-size:30.5px;color:#1f1f1f;font-family:'Liberation Sans',sans-serif;left:1861.17px;">Scope</div>
<svg style="left:1829px;top:825px" width="19" height="14" viewBox="0 0 19 14"><path d="M0 0H19L9.5 14Z" fill="#474747"/></svg>
<div class="a t" style="top:818.86px;font-size:27.6px;color:#1f1f1f;font-family:'Liberation Mono',monospace;left:1861.00px;">Local</div>
<svg style="left:1852px;top:862px" width="15" height="19" viewBox="0 0 15 19"><path d="M0 0V19L14.5 9.5Z" fill="#474747"/></svg>
<div class="a t" style="top:861.66px;font-size:27.6px;color:#1f1f1f;font-family:'Liberation Mono',monospace;left:1878.00px;"><span style="color:#8a8a8a">Exception</span>: Error: Why did this happen????</div>
<div class="a t" style="top:901.36px;font-size:27.6px;color:#474747;font-family:'Liberation Mono',monospace;left:1878.00px;"><span style="color:#707070">this</span>: <span style="color:#9e9e9e">undefined</span></div>
<svg style="left:1832px;top:946px" width="15" height="19" viewBox="0 0 15 19"><path d="M0 0V19L14.5 9.5Z" fill="#474747"/></svg>
<div class="a t" style="top:943.56px;font-size:27.6px;color:#1f1f1f;font-family:'Liberation Mono',monospace;left:1859.00px;">Module</div>
<svg style="left:1832px;top:991px" width="15" height="19" viewBox="0 0 15 19"><path d="M0 0V19L14.5 9.5Z" fill="#474747"/></svg>
<div class="a t" style="top:988.86px;font-size:27.6px;color:#1f1f1f;font-family:'Liberation Mono',monospace;left:1859.00px;">Global</div>
<div class="a t" style="top:988.86px;font-size:27.6px;color:#1f1f1f;font-family:'Liberation Mono',monospace;left:2008.00px;width:300px;text-align:right;">Window</div>
<div class="a" style="left:1809px;top:1022px;width:509px;height:54px;background:#f3f4f9;"></div>
<div class="a" style="left:1809px;top:1020px;width:509px;height:2px;background:#d3e3fd;"></div>
<div class="a" style="left:1809px;top:1076px;width:509px;height:2px;background:#d3e3fd;"></div>
<svg style="left:1831px;top:1044px" width="19" height="14" viewBox="0 0 19 14"><path d="M0 0H19L9.5 14Z" fill="#474747"/></svg>
<div class="a t" style="top:1033.77px;font-size:30.5px;color:#1f1f1f;font-family:'Liberation Sans',sans-serif;left:1861.17px;">Call Stack</div>
<svg style="left:1823px;top:1088px" width="30" height="30" viewBox="0 0 30 30"><rect x="0" y="0" width="30" height="30" rx="5" fill="#3b78e7"/><path d="M7 15.5L12.5 21L23.5 9" stroke="#fff" stroke-width="3.6" fill="none"/></svg>
<div class="a t" style="top:1088.67px;font-size:30.5px;color:#8a8a8a;font-family:'Liberation Sans',sans-serif;left:1861.17px;">Show ignore-listed frames</div>
<div class="a" style="left:1809px;top:1130px;width:509px;height:2px;background:#d8e5fb;"></div>
<div class="a" style="left:1809px;top:1185px;width:509px;height:2px;background:#d8e5fb;"></div>
<div class="a" style="left:1809px;top:1239px;width:509px;height:2px;background:#d8e5fb;"></div>
<div class="a" style="left:1809px;top:1294px;width:509px;height:2px;background:#d8e5fb;"></div>
<div class="a" style="left:1809px;top:1348px;width:509px;height:2px;background:#d8e5fb;"></div>
<svg style="left:1827px;top:1147px" width="23" height="23" viewBox="0 0 23 23"><path d="M0 6.5H11V0L22.5 11.5L11 23V16.5H0Z" fill="#8ab4f8"/></svg>
<div class="a t" style="top:1143.57px;font-size:30.5px;color:#7d7d7d;font-family:'Liberation Sans',sans-serif;font-style:italic;left:1858.17px;">throwException</div>
<div class="a t" style="top:1143.57px;font-size:30.5px;color:#b3b3b3;font-family:'Liberation Sans',sans-serif;font-style:italic;left:1872.00px;width:400px;text-align:right;">library.js:15</div>
<div class="a t" style="top:1197.17px;font-size:30.5px;color:#1f1f1f;font-family:'Liberation Sans',sans-serif;left:1858.17px;">doWithError</div>
<div class="a t" style="top:1197.17px;font-size:30.5px;color:#7f7f7f;font-family:'Liberation Sans',sans-serif;left:1872.00px;width:400px;text-align:right;">mycode.js:18</div>
<div class="a t" style="top:1252.17px;font-size:30.5px;color:#1f1f1f;font-family:'Liberation Sans',sans-serif;left:1858.17px;">(anonymous)</div>
<div class="a t" style="top:1252.17px;font-size:30.5px;color:#7f7f7f;font-family:'Liberation Sans',sans-serif;left:1872.00px;width:400px;text-align:right;">mycode.js:89</div>
<div class="a t" style="top:1305.67px;font-size:30.5px;color:#7d7d7d;font-family:'Liberation Sans',sans-serif;font-style:italic;left:1858.17px;">errorWrapper</div>
<div class="a t" style="top:1305.67px;font-size:30.5px;color:#b3b3b3;font-family:'Liberation Sans',sans-serif;font-style:italic;left:1872.00px;width:400px;text-align:right;">library.js:37</div>
<div class="a t" style="top:1360.17px;font-size:30.5px;color:#1f1f1f;font-family:'Liberation Sans',sans-serif;left:1858.17px;">onclick</div>
<div class="a t" style="top:1360.17px;font-size:30.5px;color:#7f7f7f;font-family:'Liberation Sans',sans-serif;left:1872.00px;width:400px;text-align:right;">(index):83</div>
<div class="a" style="left:2318px;top:382px;width:29px;height:1034px;background:#f9f9f9;border-left:1px solid #e6e6e6"></div>
<div class="a" style="left:2326px;top:386px;width:16px;height:816px;background:#c1c1c1;border-radius:8px"></div>
</div></div>
<div class="a" style="left:1806px;top:686px;width:464px;height:65px;border:10px solid #0037ff;border-radius:30px"></div>
<div class="a" style="left:1796px;top:1017px;width:513px;height:398px;border:10px solid #0037ff;border-radius:30px"></div>
</div></div></body></html>
